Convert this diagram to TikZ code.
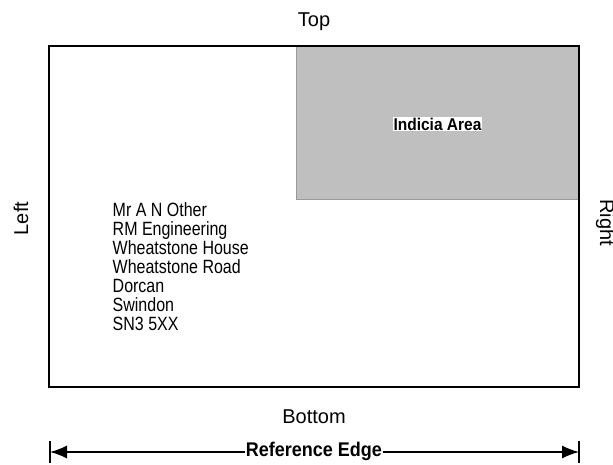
\documentclass[tikz,border=0pt]{standalone}
\usepackage{fontspec}
\setmainfont{Liberation Sans}
\usetikzlibrary{arrows.meta,positioning}

\begin{document}
\begin{tikzpicture}[x=1pt, y=-1pt,
  side/.style={font=\fontsize{20}{22}\selectfont, inner sep=0pt, anchor=base},
  env/.style={draw, line width=1.8pt},
  area/.style={draw=gray!80, fill=black!25, thin, minimum width=283pt, minimum height=153pt, anchor=north west, inner sep=0pt},
  tag/.style={font=\bfseries\fontsize{15.5}{17}\selectfont, fill=white, inner sep=1pt, yscale=1.1},
  arr/.style={-{Latex[length=17pt, width=13pt]}, line width=1.3pt}]
\useasboundingbox (0,0) rectangle (613,465);
\node[area] (indicia) at (296,46) {};
\node[tag] (indlbl) at (437.5,124) {Indicia Area};
\draw[env] (49,46) rectangle (579,387);
\node[side] (top) at (314,27) {Top};
\node[side] (bottom) at (314,423) {Bottom};
\node[side, rotate=90] (left) at (28,218.5) {Left};
\node[side, rotate=-90] (right) at (600,222.5) {Right};
\node[align=left, anchor=north west, inner sep=0pt, yscale=1.2,
  font=\fontsize{16}{15.85}\selectfont] (addr) at (112.5,202)
  {Mr A N Other\\RM Engineering\\Wheatstone House\\Wheatstone Road\\Dorcan\\Swindon\\SN3 5XX};
% reference edge
\coordinate (refL) at (50,452);
\coordinate (refR) at (579,452);
\node[tag, font=\bfseries\fontsize{18}{20}\selectfont, inner sep=0.5pt] (refedge) at (314,451) {Reference Edge};
\draw[arr] (refedge.west |- refL) -- (refL);
\draw[arr] (refedge.east |- refR) -- (refR);
\draw[line width=1.3pt] ([yshift=-10.5pt]refL) -- ([yshift=11pt]refL);
\draw[line width=1.3pt] ([yshift=-10.5pt]refR) -- ([yshift=11pt]refR);
\end{tikzpicture}
\end{document}
